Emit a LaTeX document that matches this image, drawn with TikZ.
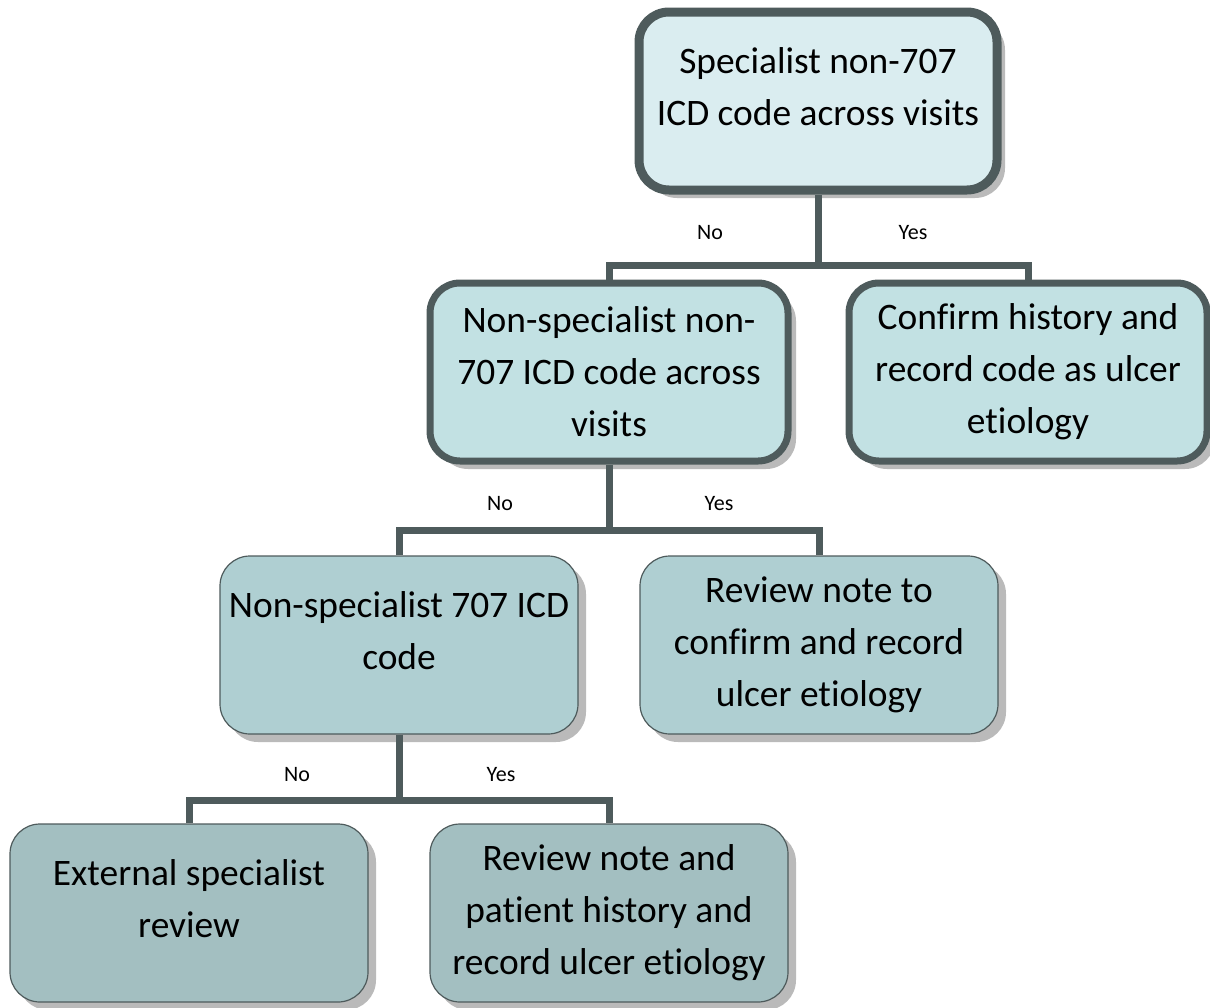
\documentclass[tikz,border=0pt]{standalone}
\usepackage{fontspec}
\setmainfont{Carlito}[Ligatures=NoCommon]
\usepackage{xcolor}
\usetikzlibrary{shadows}

\definecolor{edgegray}{HTML}{4E5B5C}
\definecolor{fillA}{HTML}{DAEDF0}
\definecolor{fillB}{HTML}{C2E1E3}
\definecolor{fillC}{HTML}{AFCFD2}
\definecolor{fillD}{HTML}{A3BFC1}

\begin{document}
\begin{tikzpicture}[x=0.5pt, y=-0.5pt,
    box/.style={draw=edgegray, rounded corners=15pt, align=center,
        minimum width=179pt, minimum height=89pt, inner sep=0pt,
        font=\fontsize{18.7}{26}\selectfont,
        drop shadow={shadow xshift=4pt, shadow yshift=-4pt, fill=black!27, opacity=1}},
    twoline/.style={text depth=14pt},
    link/.style={draw=edgegray, line width=3.5pt},
    answer/.style={font=\fontsize{11}{13}\selectfont}]
            \useasboundingbox (0,0) rectangle (1210,1007);

            \node[box, fill=fillA, line width=4.5pt, twoline] (spec) at (818,101) {Specialist non-707\\ICD code across visits};
            \node[box, fill=fillB, line width=3.5pt] (nonspec) at (609,372) {Non-specialist non-\\707 ICD code across\\visits};
            \node[box, fill=fillB, line width=3.5pt] (confirm) at (1028,372) {Confirm history and\\record code as ulcer\\etiology};
            \node[box, fill=fillC, line width=0.6pt, twoline] (code707) at (399,645) {Non-specialist 707 ICD\\code};
            \node[box, fill=fillC, line width=0.6pt] (reviewA) at (819,645) {Review note to\\confirm and record\\ulcer etiology};
            \node[box, fill=fillD, line width=0.6pt, twoline] (external) at (189,913) {External specialist\\review};
            \node[box, fill=fillD, line width=0.6pt] (reviewB) at (609,913) {Review note and\\patient history and\\record ulcer etiology};

            \coordinate (j1) at (818,265);
            \coordinate (j2) at (609,530);
            \coordinate (j3) at (399,800);

            \draw[link] (spec.south) -- (j1);
            \draw[link] (nonspec.north) |- (j1) -| (confirm.north);
            \draw[link] (nonspec.south) -- (j2);
            \draw[link] (code707.north) |- (j2) -| (reviewA.north);
            \draw[link] (code707.south) -- (j3);
            \draw[link] (external.north) |- (j3) -| (reviewB.north);

            \node[answer] (no1) at (710,233) {No};
            \node[answer] (yes1) at (913,233) {Yes};
            \node[answer] (no2) at (500,504) {No};
            \node[answer] (yes2) at (719,504) {Yes};
            \node[answer] (no3) at (297,775) {No};
            \node[answer] (yes3) at (501,775) {Yes};
        \end{tikzpicture}
\end{document}
